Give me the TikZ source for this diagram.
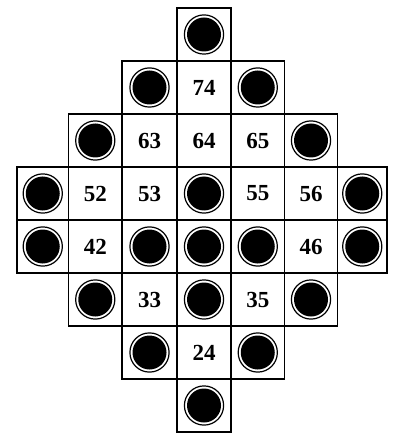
\documentclass[tikz,border=0pt]{standalone}
\usepackage{fontspec}
\setmainfont{Liberation Serif}
\newcommand{\numfont}{\fontsize{23bp}{25bp}\selectfont\bfseries}
\begin{document}
\begin{tikzpicture}[x=1bp,y=-1bp,
  cellbox/.style={draw, line width=1.4bp, inner sep=0pt, outer sep=0pt,
    minimum height=53bp},
  hole/.style={cellbox, path picture={
    \fill[black] (path picture bounding box.center) circle (17bp);
    \draw[line width=1.2bp] (path picture bounding box.center) circle (19.6bp);}},
  cA/.style={minimum width=51.5bp}, cB/.style={minimum width=53.5bp},
  cC/.style={minimum width=55bp}, cD/.style={minimum width=54bp},
  cE/.style={minimum width=53.5bp}, cF/.style={minimum width=53bp},
  cG/.style={minimum width=49.5bp}]
\useasboundingbox (0,0) rectangle (395,434);
% column 4 (centre)
\node[hole,cD] (h40) at (204,34.5) {};
\node[cellbox,cD] (n74) at (204,87.5) {\numfont 74};
\node[cellbox,cD] (n64) at (204,140.5) {\numfont 64};
\node[hole,cD] (h43) at (204,193.5) {};
\node[hole,cD] (h44) at (204,246.5) {};
\node[hole,cD] (h45) at (204,299.5) {};
\node[cellbox,cD] (n24) at (204,352.5) {\numfont 24};
\node[hole,cD] (h47) at (204,405.5) {};
% column 3
\node[hole,cC] (h31) at (149.5,87.5) {};
\node[cellbox,cC] (n63) at (149.5,140.5) {\numfont 63};
\node[cellbox,cC] (n53) at (149.5,193.5) {\numfont 53};
\node[hole,cC] (h34) at (149.5,246.5) {};
\node[cellbox,cC] (n33) at (149.5,299.5) {\numfont 33};
\node[hole,cC] (h36) at (149.5,352.5) {};
% column 5
\node[hole,cE] (h51) at (257.75,87.5) {};
\node[cellbox,cE] (n65) at (257.75,140.5) {\numfont 65};
\node[cellbox,cE] (n55) at (257.75,193.5) {\numfont 55};
\node[hole,cE] (h54) at (257.75,246.5) {};
\node[cellbox,cE] (n35) at (257.75,299.5) {\numfont 35};
\node[hole,cE] (h56) at (257.75,352.5) {};
% column 2
\node[hole,cB] (h22) at (95.25,140.5) {};
\node[cellbox,cB] (n52) at (95.25,193.5) {\numfont 52};
\node[cellbox,cB] (n42) at (95.25,246.5) {\numfont 42};
\node[hole,cB] (h25) at (95.25,299.5) {};
% column 6
\node[hole,cF] (h62) at (311,140.5) {};
\node[cellbox,cF] (n56) at (311,193.5) {\numfont 56};
\node[cellbox,cF] (n46) at (311,246.5) {\numfont 46};
\node[hole,cF] (h65) at (311,299.5) {};
% column 1
\node[hole,cA] (h13) at (42.75,193.5) {};
\node[hole,cA] (h14) at (42.75,246.5) {};
% column 7
\node[hole,cG] (h73) at (362.25,193.5) {};
\node[hole,cG] (h74) at (362.25,246.5) {};
\end{tikzpicture}
\end{document}
